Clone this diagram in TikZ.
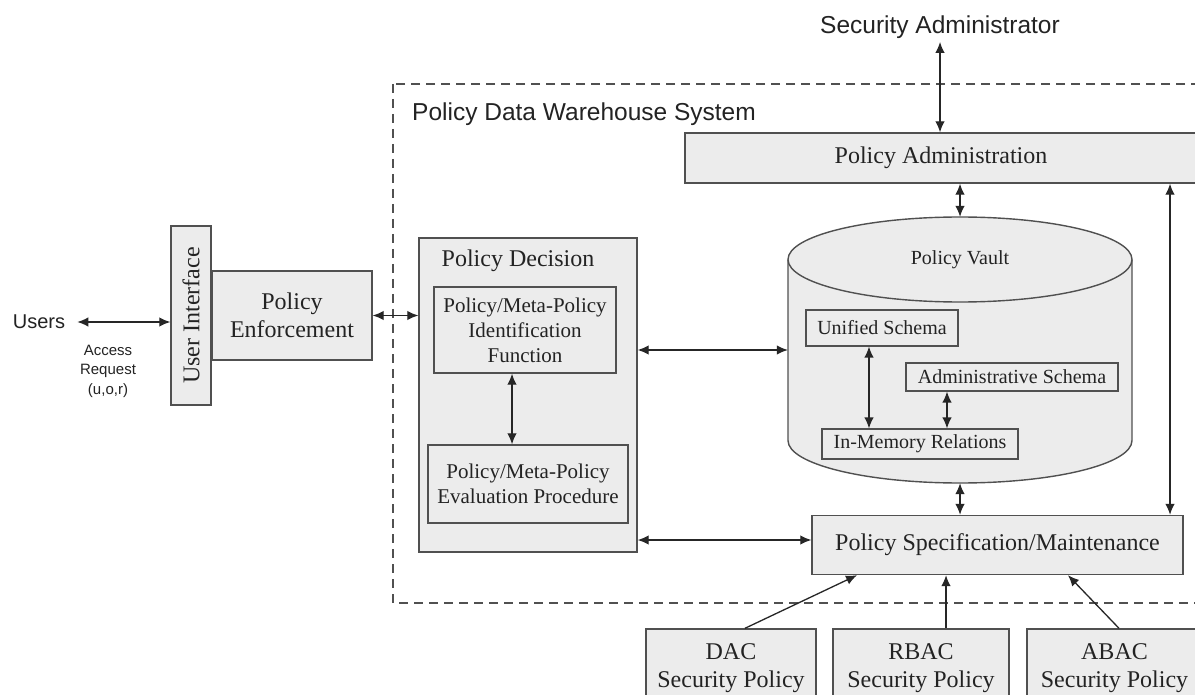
\documentclass[tikz,border=0pt]{standalone}
\usepackage{fontspec}
\setmainfont{Liberation Serif}
\newfontfamily\sansf{Liberation Sans}
\usetikzlibrary{arrows.meta,calc}
\definecolor{boxfill}{RGB}{236,236,236}
\definecolor{edge}{RGB}{80,80,80}
\definecolor{ink}{RGB}{35,35,35}
\begin{document}
\begin{tikzpicture}[x=1pt,y=-1pt,
  box/.style={draw=edge, fill=boxfill, line width=1.4pt, inner sep=0pt, align=center, text=ink},
  big/.style={font=\fontsize{24}{28}\selectfont},
  mid/.style={font=\fontsize{21}{25}\selectfont},
  small/.style={font=\fontsize{20}{24}\selectfont},
  sansbig/.style={font=\sansf\fontsize{24.5}{28}\selectfont, text=ink},
  arr/.style={line width=1.3pt, draw=black!85, {Latex[length=11pt,width=9.5pt]}-{Latex[length=11pt,width=9.5pt]}},
  uarr/.style={line width=1.3pt, draw=black!85, -{Latex[length=11pt,width=9.5pt]}},
  ]
\clip (0,0) rectangle (1195,695);
\fill[white] (0,0) rectangle (1195,695);

% system boundary
\draw[edge, line width=1.3pt, dash pattern=on 9pt off 6pt] (393,84) rectangle (1215,603);
\node[sansbig, anchor=west, inner sep=0pt] (pdws) at (412,114) {Policy Data Warehouse System};

% left side
\node[font=\sansf\fontsize{20}{24}\selectfont, text=ink, inner sep=0pt] (users) at (39,322) {Users};
\node[font=\sansf\fontsize{15}{19.5}\selectfont, text=ink, align=center, inner sep=0pt] (areq) at (108,371) {Access\\Request\\(u,o,r)};
\node[box,big,minimum width=179pt,minimum height=40pt,rotate=90] (ui) at (191,315.5) {User Interface};
\node[box,big,minimum width=160pt,minimum height=89pt] (pe) at (292,315.5) {Policy\\Enforcement};

% policy decision
\node[box,minimum width=218pt,minimum height=314pt] (pd) at (528,395) {};
\node[big,text=ink,inner sep=0pt] (pdt) at (518,261) {Policy Decision};
\node[box,mid,minimum width=182pt,minimum height=86pt] (pid) at (525,330) {Policy/Meta-Policy\\Identification\\Function};
\node[box,mid,minimum width=200pt,minimum height=78pt] (pev) at (528,484) {Policy/Meta-Policy\\Evaluation Procedure};

% policy vault
\node[minimum width=344pt,minimum height=266pt,inner sep=0pt] (vault) at (960,350) {};
\path[fill=boxfill, draw=edge, line width=1.4pt] (788,259.5) -- (788,440.5)
  arc[start angle=180,end angle=360,x radius=172pt,y radius=42.5pt] -- (1132,259.5)
  arc[start angle=0,end angle=180,x radius=172pt,y radius=42.5pt] -- cycle;
\draw[edge, line width=1.4pt] (788,259.5) arc[start angle=180,end angle=360,x radius=172pt,y radius=42.5pt];
\node[small,text=ink] (pvt) at (960,260) {Policy Vault};
\node[box,small,line width=1.2pt,minimum width=152pt,minimum height=36pt] (us) at (882,328) {Unified Schema};
\node[box,small,line width=1.2pt,minimum width=212pt,minimum height=28pt] (as) at (1012,377) {Administrative Schema};
\node[box,small,line width=1.2pt,minimum width=196pt,minimum height=30pt] (imr) at (920,444) {In-Memory Relations};

% administration and specification
\node[sansbig] (sa) at (940,27) {Security Administrator};
\node[box,big,minimum width=512pt,minimum height=50pt] (pa) at (941,158) {Policy Administration};
\node[box,big,minimum width=371pt,minimum height=59pt] (psm) at (997.5,545) {Policy Specification/Maintenance};

% security policies
\node[box,big,minimum width=170pt,minimum height=78pt] (dac) at (731,668) {DAC\\Security Policy};
\node[box,big,minimum width=176pt,minimum height=78pt] (rbac) at (921,668) {RBAC\\Security Policy};
\node[box,big,minimum width=175pt,minimum height=78pt] (abac) at (1114.5,668) {ABAC\\Security Policy};

% connectors
\draw[arr] ([xshift=12pt]users.east) -- (ui.north |- users.east);
\draw[arr] (pe.east) -- (pe.east -| pd.west);
\draw[arr] ([xshift=-13pt]pid.south) -- ([xshift=-13pt]pid.south |- pev.north);
\draw[arr] (pd.east |- vault.west) -- (vault.west);
\coordinate (psmw) at ([yshift=5pt]psm.west);
\draw[arr] (psmw -| pd.east) -- (psmw);
\draw[arr] ([xshift=-13pt]us.south) -- ([xshift=-13pt]us.south |- imr.north);
\draw[arr] ([xshift=-65pt]as.south) -- ([xshift=-65pt]as.south |- imr.north);
\draw[arr] (sa.south) -- (sa.south |- pa.north);
\draw[arr] (pa.south -| vault.north) -- (vault.north);
\draw[arr] (vault.south) -- (vault.south |- psm.north);
\coordinate (rx) at (1170,0);
\draw[arr] (pa.south -| rx) -- (psm.north -| rx);
\draw[uarr] ([xshift=14pt]dac.north) -- ([xshift=-140.5pt]psm.south);
\draw[uarr] ([xshift=25pt]rbac.north) -- ([xshift=-51.5pt]psm.south);
\draw[uarr] ([xshift=4.5pt]abac.north) -- ([xshift=70.5pt]psm.south);
\end{tikzpicture}
\end{document}
